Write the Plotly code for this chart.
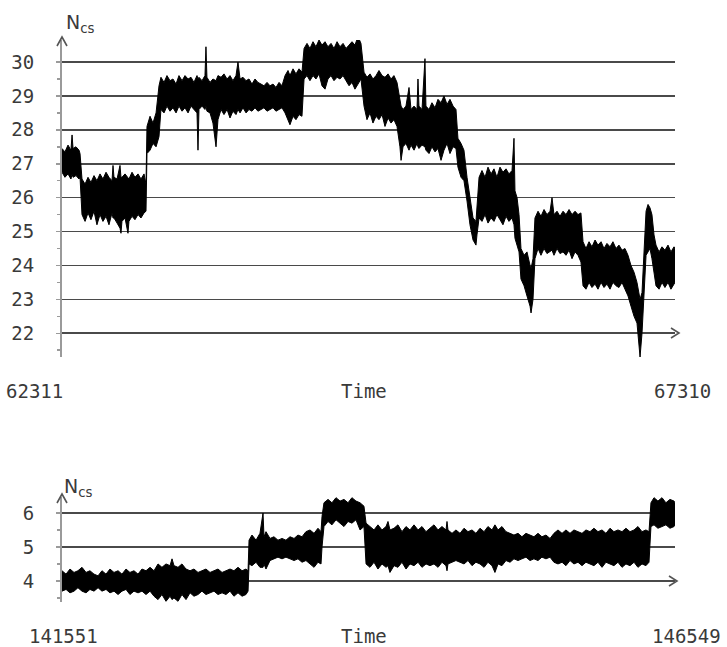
import plotly.graph_objects as go

# ---------------- data ----------------
# upper / lower edges of the noisy N_cs band, top panel
top_time = [62311, 62335, 62360, 62384, 62393, 62401, 62425, 62450, 62458, 62474,
            62499, 62523, 62547, 62572, 62596, 62621, 62645, 62670, 62694, 62719,
            62727, 62735, 62760, 62784, 62792, 62800, 62825, 62849, 62857, 62882,
            62906, 62931, 62955, 62980, 62996, 63004, 63029, 63053, 63078, 63102,
            63118, 63143, 63167, 63192, 63216, 63241, 63265, 63290, 63314, 63339,
            63363, 63387, 63412, 63420, 63428, 63453, 63477, 63485, 63493, 63518,
            63542, 63567, 63583, 63608, 63632, 63657, 63681, 63705, 63730, 63746,
            63763, 63787, 63812, 63836, 63860, 63885, 63909, 63934, 63958, 63983,
            64007, 64032, 64056, 64081, 64105, 64130, 64154, 64170, 64195, 64219,
            64244, 64268, 64285, 64309, 64333, 64358, 64382, 64407, 64431, 64456,
            64480, 64505, 64529, 64554, 64578, 64603, 64627, 64652, 64676, 64700,
            64725, 64749, 64774, 64798, 64823, 64847, 64872, 64896, 64921, 64945,
            64970, 64994, 65018, 65043, 65067, 65076, 65092, 65116, 65141, 65157,
            65182, 65206, 65214, 65222, 65247, 65271, 65279, 65304, 65328, 65353,
            65377, 65402, 65426, 65451, 65475, 65500, 65524, 65540, 65565, 65589,
            65614, 65638, 65663, 65687, 65695, 65712, 65736, 65761, 65785, 65810,
            65834, 65858, 65883, 65907, 65932, 65956, 65981, 65997, 66005, 66022,
            66038, 66054, 66079, 66103, 66128, 66136, 66152, 66168, 66193, 66217,
            66242, 66266, 66291, 66307, 66323, 66348, 66372, 66397, 66421, 66446,
            66470, 66495, 66519, 66543, 66560, 66584, 66609, 66633, 66658, 66682,
            66707, 66731, 66755, 66780, 66804, 66829, 66853, 66878, 66902, 66927,
            66951, 66976, 67000, 67016, 67025, 67041, 67057, 67074, 67090, 67106,
            67122, 67139, 67155, 67180, 67204, 67228, 67253, 67277, 67302, 67310]
top_upper = [27.45, 27.35, 27.55, 27.4, 27.85, 27.45, 27.5, 27.4, 27.3, 26.55,
             26.4, 26.6, 26.45, 26.65, 26.5, 26.7, 26.55, 26.75, 26.6, 26.5,
             26.95, 26.6, 26.55, 26.95, 26.6, 26.6, 26.7, 26.6, 26.55, 26.75,
             26.6, 26.7, 26.55, 26.7, 26.4, 28.1, 28.4, 28.2, 28.5, 29.3,
             29.55, 29.4, 29.6, 29.45, 29.5, 29.35, 29.6, 29.45, 29.6, 29.5,
             29.55, 29.4, 29.6, 29.5, 29.55, 29.45, 29.6, 30.45, 29.55, 29.4,
             29.5, 29.45, 29.6, 29.55, 29.65, 29.5, 29.6, 29.45, 29.6, 30.0,
             29.5, 29.55, 29.45, 29.5, 29.35, 29.5, 29.4, 29.35, 29.3, 29.4,
             29.3, 29.35, 29.25, 29.4, 29.3, 29.6, 29.75, 29.6, 29.8, 29.65,
             29.8, 29.7, 30.4, 30.55, 30.4, 30.6, 30.45, 30.65, 30.5, 30.6,
             30.45, 30.55, 30.4, 30.6, 30.45, 30.55, 30.4, 30.5, 30.6, 30.5,
             30.75, 30.55, 29.7, 29.55, 29.65, 29.5, 29.6, 29.75, 29.6, 29.55,
             29.65, 29.5, 29.6, 29.4, 28.9, 28.7, 28.6, 28.7, 29.25, 28.6,
             28.7, 28.6, 29.5, 28.7, 28.6, 30.1, 28.7, 28.6, 28.8, 28.65,
             28.9, 28.8, 29.0, 28.75, 28.9, 28.7, 28.6, 27.75, 27.6, 27.4,
             26.6, 26.0, 25.4, 25.3, 25.8, 26.6, 26.8, 26.6, 26.9, 26.7,
             26.85, 26.6, 26.9, 26.75, 26.85, 26.7, 26.8, 27.75, 26.2, 26.0,
             25.5, 24.5, 24.3, 24.4, 24.0, 23.9, 24.2, 25.4, 25.6, 25.45,
             25.65, 25.5, 25.6, 26.0, 25.5, 25.6, 25.45, 25.6, 25.5, 25.65,
             25.5, 25.6, 25.5, 25.55, 24.7, 24.5, 24.7, 24.55, 24.75, 24.6,
             24.7, 24.5, 24.65, 24.55, 24.7, 24.5, 24.6, 24.45, 24.5, 24.3,
             24.0, 23.8, 23.5, 23.2, 23.0, 23.2, 24.4, 25.6, 25.8, 25.7,
             25.5, 24.9, 24.6, 24.4, 24.55, 24.45, 24.6, 24.4, 24.55, 24.5]
top_lower = [26.75, 26.6, 26.7, 26.55, 26.7, 26.6, 26.65, 26.55, 26.6, 25.5,
             25.3, 25.55, 25.35, 25.6, 25.2, 25.5, 25.3, 25.45, 25.2, 25.55,
             25.4, 25.4, 25.25, 25.1, 24.95, 25.3, 25.4, 24.95, 25.3, 25.45,
             25.35, 25.5, 25.4, 25.55, 25.6, 27.3, 27.4, 27.6, 27.5, 27.8,
             28.6, 28.5, 28.7, 28.55, 28.65, 28.5, 28.7, 28.55, 28.65, 28.5,
             28.7, 28.6, 28.5, 27.4, 28.6, 28.7, 28.6, 28.7, 28.55, 28.5,
             28.2, 27.5, 28.3, 28.6, 28.45, 28.6, 28.35, 28.55, 28.45, 28.6,
             28.5, 28.65, 28.5, 28.6, 28.55, 28.65, 28.55, 28.6, 28.65, 28.55,
             28.6, 28.65, 28.55, 28.6, 28.65, 28.5, 28.3, 28.15, 28.4, 28.3,
             28.45, 28.4, 29.5, 29.6, 29.45, 29.6, 29.5, 29.65, 29.3, 29.2,
             29.5, 29.6, 29.45, 29.55, 29.5, 29.6, 29.45, 29.3, 29.4, 29.2,
             29.35, 29.5, 28.7, 28.3, 28.5, 28.2, 28.4, 28.3, 28.45, 28.1,
             28.35, 28.2, 28.3, 28.1, 27.5, 27.1, 27.5, 27.6, 27.4, 27.55,
             27.4, 27.6, 27.5, 27.45, 27.55, 27.5, 27.4, 27.3, 27.5, 27.35,
             27.45, 27.1, 27.4, 27.6, 27.3, 27.5, 27.45, 26.9, 26.6, 26.5,
             25.9, 25.2, 24.75, 24.6, 24.9, 25.4, 25.3, 25.5, 25.25, 25.4,
             25.3, 25.5, 25.35, 25.2, 25.45, 25.3, 25.4, 25.2, 24.8, 24.6,
             24.4, 23.6, 23.4, 23.1, 22.8, 22.6, 23.0, 24.2, 24.5, 24.3,
             24.5, 24.35, 24.4, 24.45, 24.3, 24.5, 24.35, 24.4, 24.3, 24.45,
             24.2, 24.4, 24.3, 24.1, 23.4, 23.3, 23.5, 23.35, 23.45, 23.3,
             23.5, 23.35, 23.45, 23.3, 23.5, 23.4, 23.35, 23.5, 23.3, 23.1,
             22.8, 22.5, 22.3, 21.6, 21.3, 22.0, 23.0, 24.3, 24.4, 24.5,
             24.2, 23.8, 23.4, 23.3, 23.5, 23.35, 23.5, 23.3, 23.45, 23.5]

# bottom panel
bot_time = [141551, 141584, 141616, 141649, 141681, 141714, 141747, 141779, 141812, 141845,
            141877, 141910, 141942, 141975, 142008, 142040, 142073, 142105, 142138, 142171,
            142203, 142236, 142269, 142301, 142334, 142366, 142399, 142432, 142448, 142464,
            142497, 142529, 142562, 142595, 142627, 142660, 142692, 142725, 142758, 142790,
            142823, 142856, 142888, 142921, 142953, 142986, 143019, 143051, 143068, 143076,
            143100, 143133, 143165, 143190, 143198, 143214, 143247, 143279, 143312, 143345,
            143377, 143410, 143443, 143475, 143508, 143540, 143573, 143606, 143638, 143663,
            143671, 143687, 143720, 143752, 143785, 143818, 143850, 143883, 143915, 143948,
            143981, 144013, 144030, 144062, 144095, 144127, 144160, 144193, 144209, 144225,
            144258, 144290, 144323, 144356, 144388, 144421, 144454, 144486, 144519, 144551,
            144584, 144617, 144649, 144682, 144690, 144698, 144731, 144763, 144796, 144829,
            144861, 144894, 144926, 144959, 144992, 145024, 145057, 145081, 145106, 145138,
            145171, 145204, 145236, 145269, 145301, 145334, 145367, 145399, 145432, 145464,
            145497, 145530, 145562, 145595, 145628, 145660, 145693, 145725, 145758, 145791,
            145823, 145856, 145888, 145921, 145954, 145986, 146019, 146051, 146084, 146117,
            146149, 146182, 146215, 146247, 146280, 146312, 146337, 146353, 146378, 146410,
            146443, 146475, 146508, 146541, 146549]
bot_upper = [4.3, 4.2, 4.35, 4.25, 4.3, 4.4, 4.25, 4.3, 4.2, 4.15,
             4.3, 4.2, 4.35, 4.25, 4.3, 4.2, 4.35, 4.25, 4.3, 4.2,
             4.35, 4.3, 4.4, 4.3, 4.5, 4.4, 4.5, 4.45, 4.65, 4.45,
             4.4, 4.5, 4.35, 4.3, 4.35, 4.25, 4.3, 4.35, 4.25, 4.3,
             4.35, 4.25, 4.3, 4.35, 4.3, 4.4, 4.3, 4.35, 4.3, 5.2,
             5.35, 5.2, 5.4, 6.0, 5.3, 5.45, 5.25, 5.3, 5.2, 5.25,
             5.2, 5.3, 5.25, 5.35, 5.3, 5.45, 5.5, 5.4, 5.55, 5.45,
             5.9, 6.3, 6.4, 6.3, 6.45, 6.35, 6.4, 6.3, 6.45, 6.35,
             6.3, 6.2, 5.7, 5.6, 5.5, 5.65, 5.5, 5.6, 5.75, 5.5,
             5.55, 5.65, 5.45, 5.6, 5.5, 5.65, 5.5, 5.6, 5.45, 5.55,
             5.65, 5.5, 5.6, 5.5, 5.75, 5.5, 5.4, 5.5, 5.4, 5.55,
             5.45, 5.5, 5.4, 5.55, 5.45, 5.6, 5.5, 5.65, 5.5, 5.6,
             5.45, 5.4, 5.35, 5.4, 5.3, 5.4, 5.35, 5.3, 5.4, 5.3,
             5.35, 5.25, 5.4, 5.5, 5.4, 5.5, 5.4, 5.5, 5.45, 5.4,
             5.5, 5.45, 5.55, 5.45, 5.5, 5.4, 5.55, 5.45, 5.5, 5.45,
             5.55, 5.45, 5.5, 5.6, 5.45, 5.5, 5.45, 6.3, 6.45, 6.35,
             6.45, 6.3, 6.4, 6.35, 6.3]
bot_lower = [3.7, 3.75, 3.65, 3.7, 3.8, 3.7, 3.65, 3.75, 3.7, 3.8,
             3.7, 3.75, 3.65, 3.7, 3.6, 3.7, 3.75, 3.6, 3.7, 3.65,
             3.7, 3.6, 3.7, 3.55, 3.45, 3.6, 3.4, 3.55, 3.45, 3.5,
             3.4, 3.6, 3.45, 3.65, 3.55, 3.6, 3.7, 3.6, 3.65, 3.7,
             3.6, 3.65, 3.6, 3.7, 3.55, 3.65, 3.55, 3.6, 3.7, 4.5,
             4.45, 4.55, 4.4, 4.4, 4.5, 4.35, 4.6, 4.65, 4.7, 4.65,
             4.7, 4.65, 4.6, 4.65, 4.55, 4.6, 4.5, 4.4, 4.55, 4.5,
             5.0, 5.6, 5.75, 5.65, 5.8, 5.7, 5.6, 5.75, 5.7, 5.8,
             5.5, 5.6, 4.5, 4.4, 4.55, 4.35, 4.5, 4.4, 4.45, 4.25,
             4.45, 4.4, 4.55, 4.35, 4.5, 4.45, 4.55, 4.4, 4.5, 4.45,
             4.5, 4.4, 4.55, 4.45, 4.3, 4.5, 4.55, 4.6, 4.55, 4.5,
             4.6, 4.45, 4.55, 4.5, 4.4, 4.55, 4.45, 4.25, 4.5, 4.45,
             4.6, 4.55, 4.65, 4.6, 4.65, 4.7, 4.6, 4.65, 4.6, 4.7,
             4.65, 4.7, 4.55, 4.5, 4.55, 4.45, 4.6, 4.5, 4.55, 4.45,
             4.55, 4.5, 4.45, 4.55, 4.4, 4.55, 4.5, 4.45, 4.55, 4.4,
             4.5, 4.45, 4.55, 4.4, 4.5, 4.45, 4.55, 5.6, 5.65, 5.55,
             5.6, 5.65, 5.55, 5.6, 5.65]

top_range_t = [62311, 67310]
bot_range_t = [141551, 146549]
top_ticks = [22, 23, 24, 25, 26, 27, 28, 29, 30]
bot_ticks = [4, 5, 6]
time_title = "Time"

# ---------------- figure ----------------
W, H = 727, 647
def px(x):
    return x / W
def py(y):
    return 1 - y / H

fig = go.Figure()
for t, up, lo, xa, ya in [(top_time, top_upper, top_lower, "x", "y"),
                          (bot_time, bot_upper, bot_lower, "x2", "y2")]:
    fig.add_trace(go.Scatter(x=t, y=up, mode="lines", xaxis=xa, yaxis=ya,
                             line=dict(color="black", width=1), hoverinfo="skip",
                             showlegend=False))
    fig.add_trace(go.Scatter(x=t, y=lo, mode="lines", xaxis=xa, yaxis=ya,
                             fill="tonexty", fillcolor="black",
                             line=dict(color="black", width=1), hoverinfo="skip",
                             showlegend=False))

tickfont = dict(family="DejaVu Sans Mono", size=19, color="#3a3a3a")
yax_common = dict(showline=True, linecolor="#9a9a9a", linewidth=2,
                  showgrid=True, gridcolor="#4a4a4a", gridwidth=1.6,
                  zeroline=False, ticks="outside", ticklen=4, tickcolor="#9a9a9a",
                  tickwidth=1.5, tickfont=tickfont, ticklabelstandoff=18,
                  tickmode="array", fixedrange=True)
xax_common = dict(showline=False, showgrid=False, zeroline=False,
                  showticklabels=False, ticks="", fixedrange=True)

fig.update_layout(
    width=W, height=H, autosize=False,
    margin=dict(l=0, r=0, t=0, b=0),
    paper_bgcolor="white", plot_bgcolor="white",
    xaxis=dict(domain=[px(62), px(675)], range=top_range_t, anchor="y", **xax_common),
    yaxis=dict(domain=[py(357), py(40)], range=[21.3, 30.65], anchor="x",
               tickvals=top_ticks,
               minor=dict(tickvals=[v + 0.5 for v in [21] + top_ticks[:-1]],
                          ticks="outside", ticklen=3, tickcolor="#9a9a9a"),
               **yax_common),
    xaxis2=dict(domain=[px(62), px(675)], range=bot_range_t, anchor="y2", **xax_common),
    yaxis2=dict(domain=[py(602), py(497)], range=[3.38, 6.47], anchor="x2",
                tickvals=bot_ticks,
                minor=dict(tickvals=[3.5, 4.5, 5.5], ticks="outside", ticklen=3,
                           tickcolor="#9a9a9a"),
                **yax_common),
)

# arrow heads (open chevrons) at the axis ends
def chevron(tip, a, b):
    return dict(type="path", xref="paper", yref="paper",
                path=f"M {px(a[0])} {py(a[1])} L {px(tip[0])} {py(tip[1])} L {px(b[0])} {py(b[1])}",
                line=dict(color="#555555", width=1.6))
fig.add_shape(chevron((62, 37), (57, 46), (67, 46)))
fig.add_shape(chevron((679, 333), (671, 328), (671, 338)))
fig.add_shape(chevron((62, 494), (57, 503), (67, 503)))
fig.add_shape(chevron((677, 581), (669, 576), (669, 586)))

lab = dict(family="DejaVu Sans Mono", size=19, color="#3a3a3a")
ncs = dict(family="DejaVu Sans", size=19, color="#3a3a3a")
ann = [
    dict(x=px(64), y=py(24), text="N<sub>cs</sub>", xanchor="left", yanchor="middle", font=ncs),
    dict(x=px(62), y=py(487), text="N<sub>cs</sub>", xanchor="left", yanchor="middle", font=ncs),
    dict(x=px(4), y=py(391), text=str(top_range_t[0]), xanchor="left", yanchor="middle", font=lab),
    dict(x=px(364), y=py(391), text=time_title, xanchor="center", yanchor="middle", font=lab),
    dict(x=px(713), y=py(391), text=str(top_range_t[1]), xanchor="right", yanchor="middle", font=lab),
    dict(x=px(27), y=py(636), text=str(bot_range_t[0]), xanchor="left", yanchor="middle", font=lab),
    dict(x=px(364), y=py(636), text=time_title, xanchor="center", yanchor="middle", font=lab),
    dict(x=px(723), y=py(636), text=str(bot_range_t[1]), xanchor="right", yanchor="middle", font=lab),
]
for a in ann:
    fig.add_annotation(xref="paper", yref="paper", showarrow=False, **a)

fig.write_html("out.html", config={"displayModeBar": False, "staticPlot": True},
               post_script="document.body.style.margin='0';document.body.style.overflow='hidden';")
